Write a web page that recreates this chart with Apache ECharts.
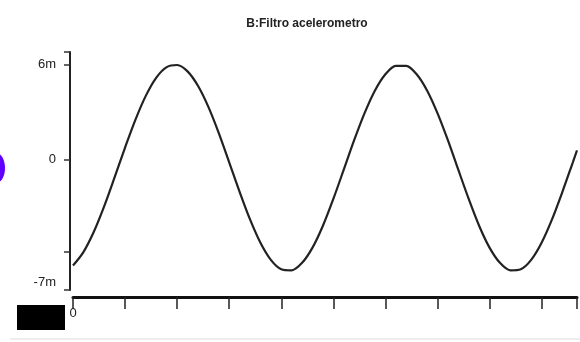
<!DOCTYPE html>
<html>
<head>
<meta charset="utf-8">
<script src="https://cdn.jsdelivr.net/npm/echarts@6/dist/echarts.min.js"></script>
<style>
  html, body { margin: 0; padding: 0; background: #fff; }
  #main { width: 580px; height: 342px; }
</style>
</head>
<body>
<div id="main"></div>
<script>
// valores (tiempo en divisiones, aceleracion en m)
var tiempo = [0, 0.2, 0.4, 0.6, 0.8, 1.0, 1.2, 1.4, 1.6, 1.8, 2.0, 2.2, 2.4, 2.6, 2.8, 3.0, 3.2, 3.4, 3.6, 3.8,
  4.0, 4.2, 4.4, 4.6, 4.8, 5.0, 5.2, 5.4, 5.6, 5.8, 6.0, 6.2, 6.4, 6.6, 6.8, 7.0, 7.2, 7.4, 7.6, 7.8,
  8.0, 8.2, 8.4, 8.6, 8.8, 9.0, 9.2, 9.4, 9.6, 9.68];
var acel = [-6.66, -5.81, -4.53, -2.91, -1.09, 0.78, 2.54, 4.05, 5.19, 5.85, 5.98, 5.58, 4.67, 3.34, 1.69, -0.15, -2.01, -3.75, -5.22, -6.30,
  -6.89, -6.96, -6.49, -5.53, -4.15, -2.46, -0.62, 1.24, 2.95, 4.38, 5.40, 5.93, 5.93, 5.40, 4.38, 2.95, 1.24, -0.62, -2.46, -4.15,
  -5.53, -6.49, -6.96, -6.89, -6.30, -5.22, -3.75, -2.01, -0.15, 0.60];
var etiquetasY = [6, 0, -7.75];
var textosY = ['6m', '0', '-7m'];
var titulo = 'B:Filtro acelerometro';

var fuente = "'Liberation Sans Narrow', 'Liberation Sans', sans-serif";
var chart = echarts.init(document.getElementById('main'));

var puntos = tiempo.map(function (t, i) { return [t, acel[i]]; });

chart.setOption({
  animation: false,
  backgroundColor: '#fff',
  title: {
    text: titulo,
    left: 302,
    textAlign: 'center',
    top: 13,
    textStyle: { fontFamily: fuente, fontSize: 12, fontWeight: 'bold', color: '#222' }
  },
  grid: { left: 73, right: 0, top: 52, bottom: 52 },
  xAxis: {
    type: 'value',
    min: 0,
    max: 9.68,
    interval: 1,
    offset: 7,
    splitLine: { show: false },
    axisLine: { onZero: false, lineStyle: { color: '#111', width: 3 } },
    axisTick: { length: 12, lineStyle: { color: '#222', width: 1.5 } },
    axisLabel: {
      margin: 10,
      fontFamily: fuente, fontSize: 13, color: '#222',
      formatter: function (v) { return v === 0 ? '0' : ''; }
    }
  },
  yAxis: {
    type: 'value',
    min: -8.2,
    max: 6.8,
    offset: 3,
    splitLine: { show: false },
    axisLine: { show: true, onZero: false, lineStyle: { color: '#222', width: 2 } },
    axisTick: {
      show: true, length: 6,
      customValues: [6.8, 6, 0, -5.8, -8.2],
      lineStyle: { color: '#333', width: 1.5 }
    },
    axisLabel: {
      margin: 14,
      customValues: etiquetasY,
      fontFamily: fuente, fontSize: 13, color: '#222',
      formatter: function (v) { return textosY[etiquetasY.indexOf(v)]; }
    }
  },
  graphic: [
    { type: 'rect', shape: { x: 17, y: 305, width: 48, height: 25 }, style: { fill: '#000' } },
    { type: 'ellipse', shape: { cx: -4, cy: 168, rx: 9, ry: 15 }, style: { fill: '#5f00ff' } },
    { type: 'line', shape: { x1: 10, y1: 339, x2: 580, y2: 339 }, style: { stroke: '#ddd', lineWidth: 1 } }
  ],
  series: [{
    type: 'line',
    data: puntos,
    smooth: 0.3,
    showSymbol: false,
    lineStyle: { color: '#222', width: 2.2 }
  }]
});
</script>
</body>
</html>
